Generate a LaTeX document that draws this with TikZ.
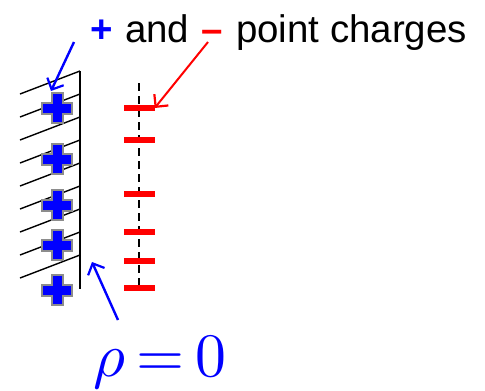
\documentclass[tikz,border=0pt]{standalone}
\usepackage{graphicx}
\usepackage{fontspec}
\setmainfont{Liberation Sans}
\usetikzlibrary{arrows.meta}
\begin{document}
\begin{tikzpicture}[x=1bp,y=-1bp,
  crossmark/.style={minimum size=36bp, inner sep=0pt, path picture={
    \filldraw[shift={(path picture bounding box.center)}, fill=blue, draw=black!45, line width=2bp, line join=miter]
      (-15,-5.5) -- (-5.5,-5.5) -- (-5.5,-15) -- (5.5,-15) -- (5.5,-5.5) -- (15,-5.5)
      -- (15,5.5) -- (5.5,5.5) -- (5.5,15) -- (-5.5,15) -- (-5.5,5.5) -- (-15,5.5) -- cycle;}},
  minusmark/.style={fill=red, minimum width=31bp, minimum height=6bp, inner sep=0pt},
  hatch/.style={line width=1.4bp},
  txt/.style={inner sep=0pt, anchor=base west, font=\fontsize{38.6}{40}\selectfont},
  barb/.style={-{Straight Barb[length=9bp,width=18bp,line width=2.2bp]}, line width=2.4bp}
]
\useasboundingbox (0,0) rectangle (485,390);

% wall with hatching
\draw[hatch] (80,71) -- (80,289);
\foreach \k in {0,...,8}{
  \draw[hatch] (20,{94+23*\k}) -- (80,{71+23*\k});
}

% dashed axis
\draw[line width=1.5bp, dash pattern=on 8bp off 5bp] (139,83) -- (139,288);

% positive charges
\node[crossmark] (p1) at (57,108) {};
\node[crossmark] (p2) at (57,159) {};
\node[crossmark] (p3) at (57,205) {};
\node[crossmark] (p4) at (57,245) {};
\node[crossmark] (p5) at (57,290) {};

% negative charges
\node[minusmark] (m1) at (139,108) {};
\node[minusmark] (m2) at (139,140) {};
\node[minusmark] (m3) at (139,194) {};
\node[minusmark] (m4) at (139,232) {};
\node[minusmark] (m5) at (139,261) {};
\node[minusmark] (m6) at (139,288) {};

% title
\node[txt, text=blue] (tplus) at (90,42) {\textbf{+}};
\node[txt] (tand) at ([xshift=12bp]tplus.base east) {and\kern12bp};
\node[txt, text=red] (tminus) at (tand.base east) {\textbf{–}};
\node[txt] (trest) at ([xshift=2bp]tminus.base east) {\ point charges};

% rho = 0
\node[inner sep=0pt, anchor=base, text=blue] (rho) at (160,376) {\scalebox{6.2}{$\rho\mkern-1.8mu=\mkern-1.8mu0$}};

% arrows
\coordinate (a1) at (74,42);
\coordinate (a2) at (51,91);
\coordinate (r1) at (208,42);
\coordinate (b1) at (118,320);
\coordinate (b2) at (92,262);
\draw[barb, blue] (a1) -- (a2);
\draw[barb, red, line width=2bp] (r1) -- (m1.east);
\draw[barb, blue] (b1) -- (b2);
\end{tikzpicture}
\end{document}
